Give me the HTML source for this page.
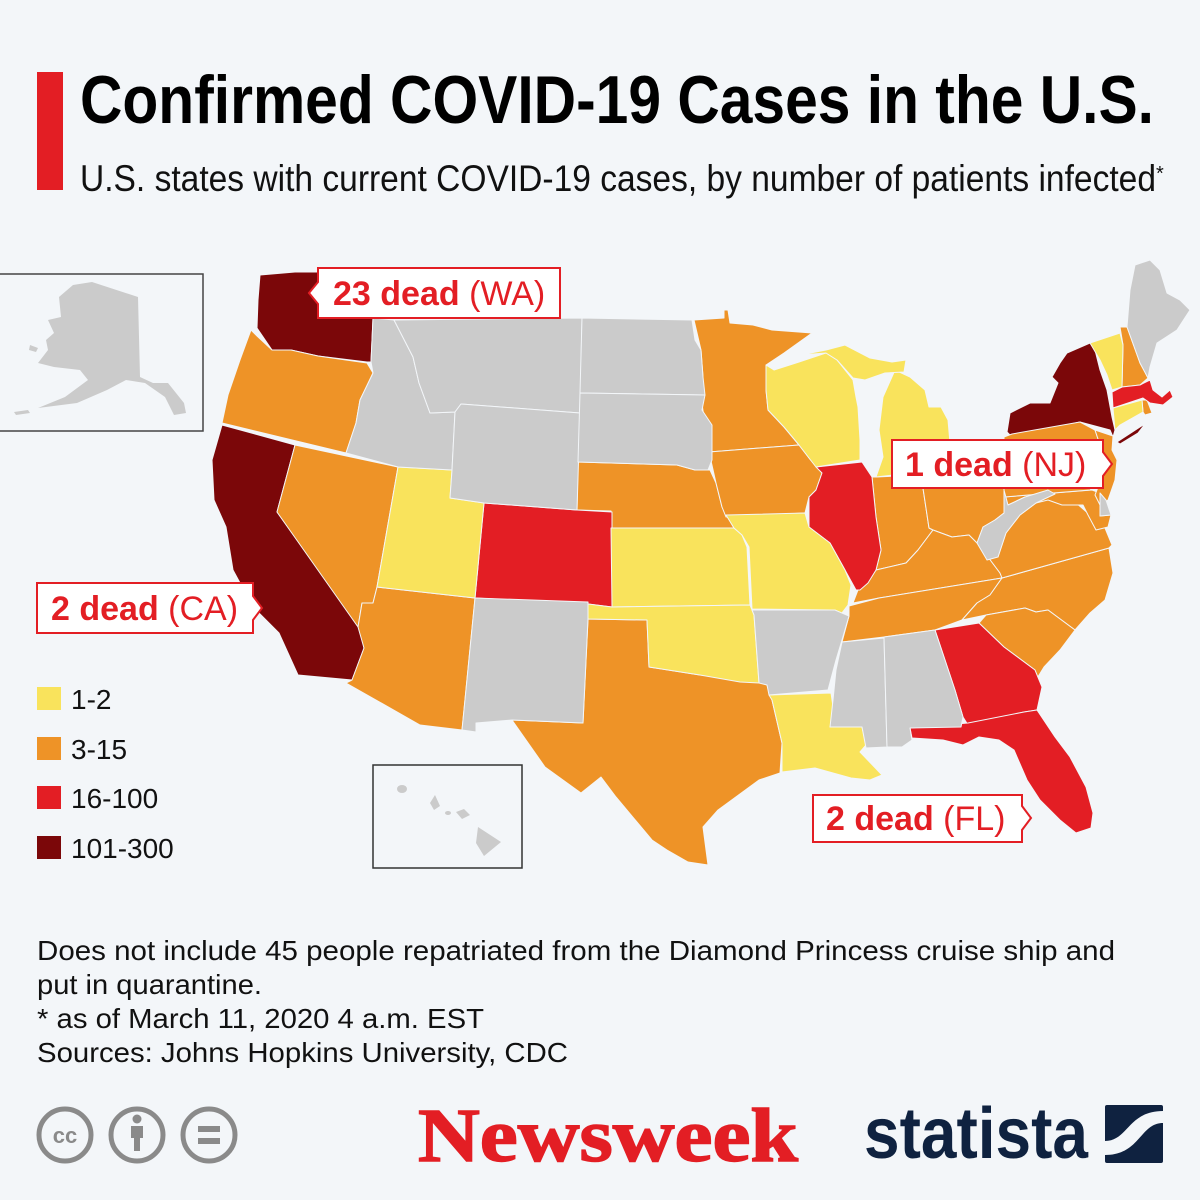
<!DOCTYPE html>
<html><head><meta charset="utf-8"><style>
html,body{margin:0;padding:0;background:#f3f6f9;}
svg{display:block;}
</style></head><body>
<svg width="1200" height="1200" viewBox="0 0 1200 1200" xmlns="http://www.w3.org/2000/svg">
<rect width="1200" height="1200" fill="#f3f6f9"/>
<rect x="37" y="72" width="26" height="118" fill="#e31e24"/>
<text x="80" y="123" font-family="'Liberation Sans Narrow','Liberation Sans',sans-serif" font-weight="bold" font-size="68" textLength="1074" lengthAdjust="spacingAndGlyphs" fill="#000">Confirmed COVID-19 Cases in the U.S.</text>
<text x="80" y="191" font-family="'Liberation Sans Narrow','Liberation Sans',sans-serif" font-size="37" textLength="1076" lengthAdjust="spacingAndGlyphs" fill="#111">U.S. states with current COVID-19 cases, by number of patients infected</text>
<text x="1156" y="180" font-family="'Liberation Sans',sans-serif" font-size="20" fill="#111">*</text>

<!-- Alaska box -->
<rect x="-2" y="274" width="205" height="157" fill="none" stroke="#444" stroke-width="1.5"/>
<polygon fill="#cbcbcb" points="73,285 92,282 138,297 140,377 153,383 168,383 184,403 186,413 174,415 165,397 145,383 126,380 107,390 77,403 38,408 65,397 88,380 80,370 54,367 38,363 48,350 46,340 54,333 48,320 61,317 59,297"/>
<polygon fill="#cbcbcb" points="14,412 28,410 30,413 16,415"/>
<polygon fill="#cbcbcb" points="30,345 38,348 36,352 29,350"/>

<!-- Hawaii box -->
<rect x="373" y="765" width="149" height="103" fill="none" stroke="#333" stroke-width="1.5"/>
<g fill="#cbcbcb">
<ellipse cx="402" cy="789" rx="5" ry="4"/>
<polygon points="430,803 435,795 440,806 434,810"/>
<ellipse cx="448" cy="813" rx="3" ry="2"/>
<polygon points="456,812 464,809 470,815 462,819"/>
<polygon points="478,827 501,842 484,856 476,843"/>
</g>

<g stroke="#f3f6f9" stroke-width="1" stroke-linejoin="round">
<!-- dark red -->
<polygon fill="#7b0709" points="260,275 295,272 373,272 373,318 371,362 367,362 318,356 291,350 272,350 257,328 258,300"/>
<polygon fill="#7b0709" points="222,425 295,445 277,512 360,628 364,648 352,680 298,675 279,633 253,607 233,570 226,527 214,500 212,460"/>
<polygon fill="#7b0709" points="1007,432 1012,437 1080,422 1110,430 1113,437 1115,430 1112,417 1107,390 1100,370 1095,350 1090,343 1067,353 1060,363 1052,377 1058,383 1050,403 1030,403 1010,413"/>
<polygon fill="#7b0709" points="1117,442 1140,427 1145,424 1138,433 1120,444"/>
<!-- orange -->
<polygon fill="#ee9327" points="251,330 257,336 272,350 291,350 318,356 367,363 373,373 360,400 356,423 346,453 222,423 228,395 240,360"/>
<polygon fill="#ee9327" points="295,445 398,467 377,587 373,603 362,603 358,627 277,512"/>
<polygon fill="#ee9327" points="377,587 475,598 462,730 420,725 346,683 352,680 364,648 358,627 362,603 373,603"/>
<polygon fill="#ee9327" points="588,619 647,620 649,667 700,675 759,680 767,685 772,700 782,743 780,773 759,780 718,810 703,827 708,865 688,862 667,850 652,840 616,797 601,777 581,793 545,767 512,720 583,723"/>
<polygon fill="#ee9327" points="578,462 677,465 695,470 710,470 716,483 722,507 734,528 611,528 611,511 577,510"/>
<polygon fill="#ee9327" points="694,320 724,318 724,310 728,310 730,323 753,325 772,330 812,333 784,353 766,365 766,390 768,410 784,427 799,445 709,452 701,397 703,377 701,350"/>
<polygon fill="#ee9327" points="709,452 799,445 809,458 822,473 816,490 809,497 805,513 726,517 722,507 716,483"/>
<polygon fill="#ee9327" points="876,477 921,475 929,528 933,530 918,550 906,563 876,570 881,550 876,517 872,477"/>
<polygon fill="#ee9327" points="921,475 944,480 965,477 983,470 1002,462 1004,490 1004,513 995,520 983,527 977,543 969,535 952,537 933,530 929,528"/>
<polygon fill="#ee9327" points="853,603 858,590 868,582 876,570 906,563 918,550 933,530 952,537 969,535 977,543 988,557 1000,573 1002,578 879,598"/>
<polygon fill="#ee9327" points="849,606 879,598 1002,578 990,595 977,603 962,620 935,630 884,637 842,642 849,616"/>
<polygon fill="#ee9327" points="1002,578 1109,548 1113,573 1105,600 1090,613 1075,630 1048,610 1036,612 1025,608 986,615 962,620 977,603 990,595"/>
<polygon fill="#ee9327" points="979,623 986,615 1025,608 1036,612 1048,610 1075,630 1060,650 1044,667 1036,680 1035,670 1004,647"/>
<polygon fill="#ee9327" points="1000,573 988,557 998,557 1006,533 1020,515 1036,503 1055,494 1075,502 1090,515 1105,528 1112,545 1109,548 1002,578"/>
<polygon fill="#ee9327" points="1004,497 1092,490 1100,493 1100,516 1111,515 1108,527 1096,530 1088,515 1083,505 1062,505 1048,500 1036,503 1025,497 1008,505"/>
<polygon fill="#ee9327" points="1004,437 1012,434 1080,422 1095,430 1100,445 1096,462 1100,482 1090,490 1004,497"/>
<polygon fill="#ee9327" points="1095,430 1113,436 1112,450 1117,460 1115,480 1108,500 1100,505 1095,495 1100,482 1096,462 1100,445"/>
<polygon fill="#ee9327" points="1120,327 1127,327 1140,363 1148,378 1140,385 1122,387 1123,345"/>
<polygon fill="#ee9327" points="1142,400 1147,400 1152,413 1145,415 1143,412"/>
<!-- red -->
<polygon fill="#e31e24" points="484,503 577,510 612,512 612,607 588,604 475,598"/>
<polygon fill="#e31e24" points="816,467 862,462 872,477 876,517 881,550 876,570 868,583 860,590 856,590 845,570 830,543 809,527 809,497 816,490 822,473"/>
<polygon fill="#e31e24" points="935,630 979,623 1004,647 1035,670 1042,687 1037,710 1024,712 968,725 963,717 955,690"/>
<polygon fill="#e31e24" points="910,728 968,723 1024,712 1037,710 1055,737 1070,757 1086,787 1093,813 1091,828 1076,833 1060,820 1040,800 1027,780 1014,750 999,740 979,737 963,745 943,740 912,738"/>
<polygon fill="#e31e24" points="1112,392 1122,387 1140,385 1150,380 1153,390 1162,397 1170,390 1173,397 1163,405 1150,403 1143,398 1113,408"/>
<!-- yellow -->
<polygon fill="#f9e35c" points="398,467 452,470 450,498 484,503 475,598 377,587"/>
<polygon fill="#f9e35c" points="611,528 734,528 742,535 747,547 750,605 612,607"/>
<polygon fill="#f9e35c" points="588,604 612,607 750,605 754,615 759,683 740,682 700,675 649,667 647,620 588,619"/>
<polygon fill="#f9e35c" points="726,515 805,513 809,527 830,543 845,570 851,585 848,605 838,618 832,610 752,609 749,547 742,535 734,528"/>
<polygon fill="#f9e35c" points="769,695 831,693 835,720 830,727 862,727 866,745 860,752 882,775 870,780 851,778 815,768 782,772 782,743 772,700"/>
<polygon fill="#f9e35c" points="774,370 799,362 826,353 837,360 853,380 856,397 858,407 860,440 860,460 816,467 809,458 799,445 784,427 768,410 766,390 766,365"/>
<polygon fill="#f9e35c" points="883,397 895,370 910,377 925,390 929,407 941,407 948,420 950,443 944,457 937,470 876,477 883,457 879,430"/>
<polygon fill="#f9e35c" points="800,355 826,350 845,345 870,358 892,362 906,360 904,372 885,373 865,380 853,378 837,360 826,353"/>
<polygon fill="#f9e35c" points="1090,343 1120,333 1123,345 1122,387 1112,390 1107,375 1100,360"/>
<polygon fill="#f9e35c" points="1113,408 1142,400 1143,412 1120,425 1115,430"/>
<!-- gray -->
<polygon fill="#cbcbcb" points="373,318 394,320 413,357 419,383 430,413 455,412 452,470 398,467 346,453 356,423 360,400 373,373 371,362"/>
<polygon fill="#cbcbcb" points="394,320 582,318 580,413 461,404 455,412 430,413 419,383 413,357"/>
<polygon fill="#cbcbcb" points="461,404 580,413 577,510 484,503 450,498 452,470 455,412"/>
<polygon fill="#cbcbcb" points="475,598 588,602 588,619 583,723 512,720 476,723 476,732 462,730"/>
<polygon fill="#cbcbcb" points="582,318 692,320 695,340 701,350 703,377 705,395 580,393"/>
<polygon fill="#cbcbcb" points="580,393 705,395 702,410 712,425 712,460 708,470 695,470 677,465 578,462"/>
<polygon fill="#cbcbcb" points="752,610 835,610 849,616 842,640 836,660 828,690 769,695 767,685 759,683 754,615"/>
<polygon fill="#cbcbcb" points="842,642 884,638 887,747 866,748 862,727 830,727 833,700 836,670"/>
<polygon fill="#cbcbcb" points="884,637 935,630 955,690 963,717 961,727 910,728 912,740 902,747 887,747"/>
<polygon fill="#cbcbcb" points="1004,490 1008,505 1025,497 1048,490 1055,494 1036,503 1020,515 1006,533 998,557 987,560 977,543 983,527 995,520 1004,513"/>
<polygon fill="#cbcbcb" points="1100,493 1106,500 1111,515 1100,516"/>
<polygon fill="#cbcbcb" points="1127,327 1130,290 1135,265 1150,260 1160,270 1167,293 1180,300 1190,310 1177,330 1157,343 1150,367 1148,378 1140,363"/>
</g>

<!-- callouts -->
<g fill="#fff" stroke="#e31e24" stroke-width="2">
<path d="M318,268 H560 V318 H318 V304 L309,293 L318,282 Z"/>
<path d="M892,440 H1103 V452 L1112,464 L1103,476 V488 H892 Z"/>
<path d="M37,583 H253 V596 L262,608 L253,620 V633 H37 Z"/>
<path d="M813,795 H1022 V806 L1031,818 L1022,830 V842 H813 Z"/>
</g>
<g font-family="'Liberation Sans',sans-serif" font-size="34" fill="#e31e24">
<text x="333" y="305"><tspan font-weight="bold">23 dead</tspan> (WA)</text>
<text x="905" y="476"><tspan font-weight="bold">1 dead</tspan> (NJ)</text>
<text x="51" y="620"><tspan font-weight="bold">2 dead</tspan> (CA)</text>
<text x="826" y="830"><tspan font-weight="bold">2 dead</tspan> (FL)</text>
</g>

<!-- legend -->
<rect x="37" y="687" width="24" height="23" fill="#f9e35c"/>
<rect x="37" y="737" width="24" height="23" fill="#ee9327"/>
<rect x="37" y="786" width="24" height="23" fill="#e31e24"/>
<rect x="37" y="836" width="24" height="23" fill="#7b0709"/>
<g font-family="'Liberation Sans',sans-serif" font-size="28" fill="#111">
<text x="71" y="709">1-2</text>
<text x="71" y="759">3-15</text>
<text x="71" y="808">16-100</text>
<text x="71" y="858">101-300</text>
</g>

<!-- notes -->
<g font-family="'Liberation Sans Narrow','Liberation Sans',sans-serif" font-size="28" fill="#111">
<text x="37" y="960" textLength="1078" lengthAdjust="spacingAndGlyphs">Does not include 45 people repatriated from the Diamond Princess cruise ship and</text>
<text x="37" y="994" textLength="225" lengthAdjust="spacingAndGlyphs">put in quarantine.</text>
<text x="37" y="1028" textLength="447" lengthAdjust="spacingAndGlyphs">* as of March 11, 2020 4 a.m. EST</text>
<text x="37" y="1062" textLength="531" lengthAdjust="spacingAndGlyphs">Sources: Johns Hopkins University, CDC</text>
</g>

<!-- CC icons -->
<g fill="none" stroke="#8a8a8a" stroke-width="5">
<circle cx="65" cy="1135" r="26"/>
<circle cx="137" cy="1135" r="26"/>
<circle cx="209" cy="1135" r="26"/>
</g>
<text x="65" y="1143" text-anchor="middle" font-family="'Liberation Sans',sans-serif" font-weight="bold" font-size="22" fill="#8a8a8a">cc</text>
<circle cx="137" cy="1119" r="4.5" fill="#8a8a8a"/>
<rect x="131" y="1126" width="12" height="12" fill="#8a8a8a"/>
<rect x="134" y="1136" width="6" height="15" fill="#8a8a8a"/>
<rect x="198" y="1126" width="22" height="6" fill="#8a8a8a"/>
<rect x="198" y="1138" width="22" height="6" fill="#8a8a8a"/>

<!-- Newsweek -->
<text x="418" y="1161" font-family="'Liberation Serif',serif" font-weight="bold" font-size="76" textLength="380" lengthAdjust="spacingAndGlyphs" fill="#e31e24" stroke="#e31e24" stroke-width="1.5">Newsweek</text>

<!-- statista -->
<text x="864" y="1158" font-family="'Liberation Sans Narrow','Liberation Sans',sans-serif" font-weight="bold" font-size="72" textLength="224" lengthAdjust="spacingAndGlyphs" fill="#0f2240">statista</text>
<rect x="1105" y="1105" width="58" height="58" rx="2" fill="#0f2240"/>
<path d="M1105,1141 C1128,1141 1128,1111 1163,1111 V1123 C1140,1123 1140,1155 1105,1155 Z" fill="#f3f6f9"/>
</svg>
</body></html>
